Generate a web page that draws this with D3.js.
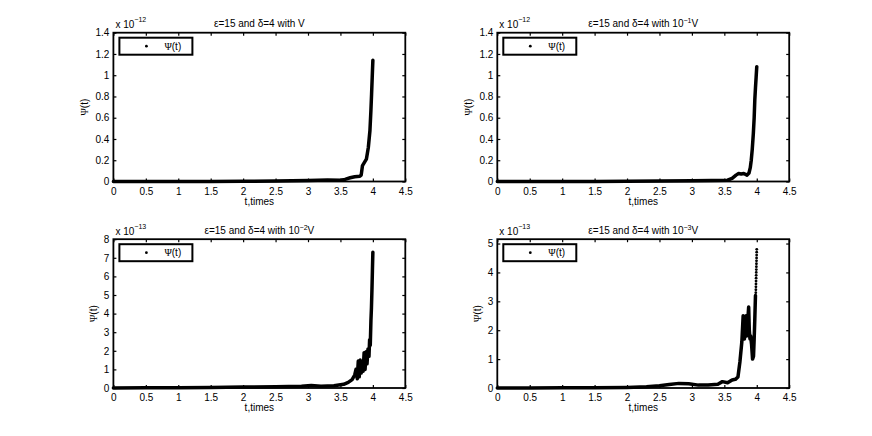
<!DOCTYPE html>
<html>
<head>
<meta charset="utf-8">
<script src="https://cdn.jsdelivr.net/npm/d3@7"></script>
<style>
  body { margin: 0; background: #fff; }
  text { font-family: "Liberation Sans", Arial, Helvetica, sans-serif; font-size: 10px; fill: #000; }
</style>
</head>
<body>
<script>
// tick labels
var xTicks = [0, 0.5, 1, 1.5, 2, 2.5, 3, 3.5, 4, 4.5];
var yTicksTop = [0, 0.2, 0.4, 0.6, 0.8, 1, 1.2, 1.4];
var yTicksV2 = [0, 1, 2, 3, 4, 5, 6, 7, 8];
var yTicksV3 = [0, 1, 2, 3, 4, 5];

// power of ten in front of V in the titles, and exponent of the y scale
var vPower = [0, -1, -2, -3];
var yExponent = [-12, -12, -13, -13];

// Psi(t) with V  (x 1e-12)
var tV = [0, 0.5, 1, 1.5, 2, 2.5, 3, 3.3, 3.5, 3.57, 3.65, 3.72, 3.8, 3.82, 3.84, 3.87, 3.9, 3.93, 3.955, 3.97, 3.98, 3.99, 4.0];
var psiV = [0, 0, 0.001, 0.001, 0.002, 0.004, 0.01, 0.013, 0.012, 0.02, 0.035, 0.045, 0.05, 0.06, 0.15, 0.18, 0.21, 0.32, 0.48, 0.67, 0.82, 0.98, 1.14];

// Psi(t) with 10^-1 V  (x 1e-12)
var tV1 = [0, 0.5, 1, 1.5, 2, 2.5, 3, 3.3, 3.55, 3.62, 3.68, 3.72, 3.76, 3.8, 3.85, 3.88, 3.9, 3.915, 3.93, 3.947, 3.96, 3.97, 3.98, 3.99, 4.0];
var psiV1 = [0, 0, 0, 0.001, 0.002, 0.004, 0.007, 0.01, 0.012, 0.03, 0.06, 0.075, 0.07, 0.075, 0.06, 0.08, 0.13, 0.2, 0.3, 0.45, 0.6, 0.77, 0.88, 0.98, 1.08];

// Psi(t) with 10^-2 V  (x 1e-13)
var tV2 = [0, 0.5, 1, 1.5, 2, 2.5, 2.9, 3.05, 3.2, 3.4, 3.55, 3.62, 3.68, 3.72, 3.74, 3.76, 3.775, 3.79, 3.805, 3.82, 3.835, 3.85, 3.865, 3.88, 3.895, 3.91, 3.925, 3.94, 3.95, 3.96, 3.97, 3.978, 3.986, 3.993, 4.0];
var psiV2 = [0, 0.01, 0.02, 0.03, 0.05, 0.07, 0.09, 0.13, 0.1, 0.12, 0.2, 0.3, 0.45, 0.7, 1.0, 0.5, 1.45, 0.6, 1.5, 0.8, 1.4, 0.9, 1.9, 1.0, 1.95, 1.3, 2.1, 1.7, 2.6, 2.3, 3.6, 4.3, 5.3, 6.3, 7.3];

// Psi(t) with 10^-3 V  (x 1e-13), solid part then the sparse dots at the end
var tV3 = [0, 0.5, 1, 1.5, 2, 2.3, 2.5, 2.65, 2.8, 2.95, 3.1, 3.25, 3.4, 3.47, 3.55, 3.62, 3.67, 3.71, 3.74, 3.77, 3.79, 3.81, 3.825, 3.835, 3.845, 3.86, 3.875, 3.885, 3.895, 3.905, 3.92, 3.935, 3.95, 3.96, 3.97, 3.98];
var psiV3 = [0, 0, 0.005, 0.01, 0.02, 0.04, 0.08, 0.12, 0.16, 0.15, 0.1, 0.1, 0.13, 0.22, 0.18, 0.28, 0.3, 0.38, 0.9, 1.6, 2.5, 1.7, 2.2, 2.5, 1.8, 2.3, 2.8, 2.0, 1.7, 1.8, 1.5, 1.0, 1.1, 1.7, 2.4, 3.2];
var tTailV3 = [3.985, 3.986, 3.987, 3.988, 3.989, 3.99, 3.991, 3.992, 3.993, 3.994, 3.995, 3.996, 3.997, 3.998, 3.999, 4.0];
var psiTailV3 = [3.3, 3.4, 3.5, 3.6, 3.7, 3.8, 3.9, 4.0, 4.1, 4.2, 4.3, 4.4, 4.5, 4.6, 4.7, 4.8];

var W = 872, H = 436;
var pw = 291.9, ph = 148.8;

var panels = [
	{ left: 113.4, top: 32.7, t: tV,  psi: psiV,  yMax: 1.4,  yTicks: yTicksTop, ylabOff: 29 },
	{ left: 497.3, top: 32.7, t: tV1, psi: psiV1, yMax: 1.4,  yTicks: yTicksTop, ylabOff: 29 },
	{ left: 113.4, top: 239.2, t: tV2, psi: psiV2, yMax: 8,   yTicks: yTicksV2, ylabOff: 20 },
	{ left: 497.3, top: 239.2, t: tV3, psi: psiV3, yMax: 5.15, yTicks: yTicksV3, ylabOff: 20,
	  tailT: tTailV3, tailPsi: psiTailV3 }
];

var svg = d3.select("body").append("svg")
	.attr("width", W)
	.attr("height", H);

svg.append("rect").attr("width", W).attr("height", H).attr("fill", "#fff");

function drawPanel(p, i) {
	var x = d3.scaleLinear().domain([0, 4.5]).range([0, pw]);
	var y = d3.scaleLinear().domain([0, p.yMax]).range([ph, 0]);

	var g = svg.append("g")
		.attr("transform", "translate(" + p.left + "," + p.top + ")");

	// ticks inside the box, on all four sides
	g.append("g")
		.attr("transform", "translate(0," + ph + ")")
		.call(d3.axisBottom(x).tickValues(xTicks).tickSize(-3).tickPadding(6).tickFormat(String));
	g.append("g")
		.call(d3.axisTop(x).tickValues(xTicks).tickSize(-3).tickFormat(""));
	g.append("g")
		.call(d3.axisLeft(y).tickValues(p.yTicks).tickSize(-3).tickPadding(4).tickFormat(String));
	g.append("g")
		.attr("transform", "translate(" + pw + ",0)")
		.call(d3.axisRight(y).tickValues(p.yTicks).tickSize(-3).tickFormat(""));

	g.selectAll(".domain").remove();
	g.selectAll(".tick line").attr("stroke", "#000").attr("stroke-width", 1.2);
	g.selectAll(".tick text")
		.attr("fill", "#000")
		.style("font-family", "'Liberation Sans', Arial, sans-serif")
		.style("font-size", "10px");

	// the curve
	var pts = p.t.map(function(d, k) { return [d, p.psi[k]]; });
	var line = d3.line()
		.x(function(d) { return x(d[0]); })
		.y(function(d) { return y(d[1]); });

	g.append("path")
		.datum(pts)
		.attr("d", line)
		.attr("fill", "none")
		.attr("stroke", "#000")
		.attr("stroke-width", 3.5)
		.attr("stroke-linejoin", "round")
		.attr("stroke-linecap", "round");

	if (p.tailT) {
		g.selectAll(".tail")
			.data(p.tailT)
			.enter().append("circle")
			.attr("class", "tail")
			.attr("cx", function(d) { return x(d); })
			.attr("cy", function(d, k) { return y(p.tailPsi[k]); })
			.attr("r", 1.4)
			.attr("fill", "#000");
	}

	// box
	g.append("rect")
		.attr("width", pw)
		.attr("height", ph)
		.attr("fill", "none")
		.attr("stroke", "#000")
		.attr("stroke-width", 1.8);

	// legend
	var lg = g.append("g").attr("transform", "translate(6,5)");
	lg.append("rect")
		.attr("width", 73)
		.attr("height", 17)
		.attr("fill", "#fff")
		.attr("stroke", "#000")
		.attr("stroke-width", 2);
	lg.append("circle")
		.attr("cx", 27)
		.attr("cy", 8.5)
		.attr("r", 1.4)
		.attr("fill", "#000");
	var lt = lg.append("text")
		.attr("x", 45)
		.attr("y", 12.2);
	lt.append("tspan").style("font-family", "'Liberation Serif', 'Times New Roman', serif").text("Ψ");
	lt.append("tspan").text("(t)");

	// title
	var title = g.append("text")
		.attr("x", pw / 2)
		.attr("y", -5.5)
		.attr("text-anchor", "middle");
	if (vPower[i] === 0) {
		title.text("ε=15 and δ=4 with V");
	} else {
		title.append("tspan").text("ε=15 and δ=4 with 10");
		title.append("tspan").attr("dy", -4).style("font-size", "7px").text("−" + Math.abs(vPower[i]));
		title.append("tspan").attr("dy", 4).text("V");
	}

	// y multiplier
	var ex = g.append("text")
		.attr("x", 2)
		.attr("y", -4.5);
	ex.append("tspan").text("x 10");
	ex.append("tspan").attr("dy", -6).style("font-size", "7px").text("−" + Math.abs(yExponent[i]));

	// axis labels
	g.append("text")
		.attr("x", pw / 2)
		.attr("y", ph + 23.5)
		.attr("text-anchor", "middle")
		.text("t,times");

	var yl = g.append("text")
		.attr("transform", "translate(" + (-p.ylabOff) + "," + (ph / 2) + ") rotate(-90)")
		.attr("text-anchor", "middle")
		.attr("dy", "0.35em");
	yl.append("tspan").style("font-family", "'Liberation Serif', 'Times New Roman', serif").text("Ψ");
	yl.append("tspan").text("(t)");
}

panels.forEach(drawPanel);
</script>
</body>
</html>
